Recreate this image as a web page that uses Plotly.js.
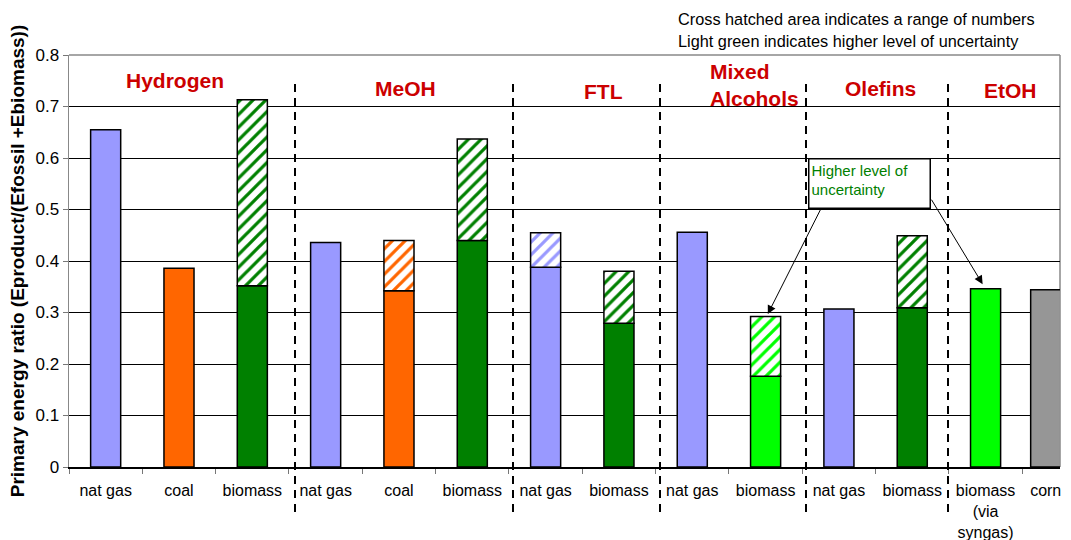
<!DOCTYPE html>
<html>
<head>
<meta charset="utf-8">
<script src="https://cdn.plot.ly/plotly-3.0.1.min.js"></script>
<style>html,body{margin:0;padding:0;background:#fff;}#chart{width:1071px;height:540px;}</style>
</head>
<body>
<div id="chart"></div>
<script>
// ---- data ----
const categories = ['nat gas','coal','biomass','nat gas','coal','biomass','nat gas','biomass','nat gas','biomass','nat gas','biomass','biomass<br>(via<br>syngas)','corn'];
const feedstock  = ['natgas','coal','biomass','natgas','coal','biomass','natgas','biomass','natgas','uncertain','natgas','biomass','uncertain','corn'];
const baseValues = [0.655,0.386,0.352,0.436,0.342,0.440,0.388,0.279,0.456,0.176,0.307,0.309,0.346,0.344];
const rangeTop   = [null,null,0.713,null,0.440,0.637,0.455,0.380,null,0.292,null,0.449,null,null];
const groupLabels = ['Hydrogen','MeOH','FTL','Mixed<br>Alcohols','Olefins','EtOH'];
const noteLines = ['Cross hatched area indicates a range of numbers','Light green indicates higher level of uncertainty'];
const calloutText = 'Higher level of<br>uncertainty';

// ---- styles ----
const colorMap = {natgas:'#9999FF', coal:'#FF6600', biomass:'#008000', uncertain:'#00FF00', corn:'#969696'};
const font = 'Liberation Sans, Arial, sans-serif';
const colors = feedstock.map(f => colorMap[f]);
const xPos = categories.map((c, i) => i < 13 ? i : 12.82);

const solid = {
  type:'bar', x:xPos, y:baseValues, width:0.41,
  marker:{color:colors, line:{color:'#000', width:1.5}},
  hoverinfo:'skip', showlegend:false
};
const hatchIdx = rangeTop.map((v,i)=>v===null?null:i).filter(v=>v!==null);
const hatched = {
  type:'bar',
  x:hatchIdx.map(i=>xPos[i]),
  base:hatchIdx.map(i=>baseValues[i]),
  y:hatchIdx.map(i=>rangeTop[i]-baseValues[i]),
  width:0.41,
  marker:{color:'#fff', line:{color:'#000', width:1.5},
    pattern:{shape:'/', fgcolor:hatchIdx.map(i=>colors[i]), bgcolor:'#fff', fgopacity:1, size:9, solidity:0.36, fillmode:'replace'}},
  hoverinfo:'skip', showlegend:false
};

// group label placement
const groupPos = [[0.94,0.750,'center'],[4.09,0.734,'center'],[6.79,0.730,'center'],[8.21,0.742,'left'],[10.57,0.734,'center'],[12.34,0.732,'center']];
const annotations = groupLabels.map((t,i)=>({
  xref:'x', yref:'y', x:groupPos[i][0], y:groupPos[i][1], xanchor:groupPos[i][2], yanchor:'middle',
  text:'<b>'+t+'</b>', showarrow:false, align:'left',
  font:{family:font, size:21, color:'#CC0000'}
}));
annotations.push({xref:'paper', yref:'paper', x:(676-69)/991, y:(467-19)/412, xanchor:'left', yanchor:'middle',
  text:noteLines[0], showarrow:false, font:{family:font, size:16.3, color:'#000'}});
annotations.push({xref:'paper', yref:'paper', x:(676-69)/991, y:(467-41)/412, xanchor:'left', yanchor:'middle',
  text:noteLines[1], showarrow:false, font:{family:font, size:16.3, color:'#000'}});
// callout box
annotations.push({xref:'x', yref:'y', x:10.42, y:0.551, xanchor:'center', yanchor:'middle',
  text:calloutText, showarrow:false, align:'left', valign:'top', width:116, height:44,
  bgcolor:'#fff', bordercolor:'#000', borderwidth:1.5, borderpad:2,
  font:{family:font, size:15, color:'#008000'}});
// arrows
annotations.push({xref:'x', yref:'y', x:9.03, y:0.297, axref:'x', ayref:'y', ax:9.76, ay:0.503,
  text:'', showarrow:true, arrowhead:2, arrowsize:1.7, arrowwidth:1, arrowcolor:'#000'});
annotations.push({xref:'x', yref:'y', x:11.96, y:0.355, axref:'x', ayref:'y', ax:11.25, ay:0.522,
  text:'', showarrow:true, arrowhead:2, arrowsize:1.7, arrowwidth:1, arrowcolor:'#000'});

const sepX = [295,513,660,806,948];
const shapes = sepX.map(px=>({type:'line', xref:'paper', yref:'paper',
  x0:(px-69)/991, x1:(px-69)/991, y0:(467-84)/412, y1:(467-518)/412,
  line:{color:'#000', width:2, dash:'8px,6px'}, layer:'above'}));
shapes.push({type:'line', xref:'paper', yref:'paper', x0:0, x1:1, y0:1, y1:1, line:{color:'#888', width:1.5}, layer:'below'});
shapes.push({type:'line', xref:'paper', yref:'paper', x0:1, x1:1, y0:0, y1:1, line:{color:'#888', width:1.5}, layer:'below'});

const layout = {
  width:1071, height:540,
  margin:{l:69, r:11, t:55, b:73, pad:0},
  paper_bgcolor:'#fff', plot_bgcolor:'#fff',
  barmode:'overlay', bargap:0,
  font:{family:font, color:'#000'},
  xaxis:{range:[-0.5,13.015], tickmode:'array', tickvals:xPos, ticktext:categories,
    ticks:'', showgrid:false, zeroline:false, showline:true, linecolor:'#000', linewidth:2,
    tickfont:{family:font, size:16, color:'#000'}, ticklabelstandoff:8,
    minor:{tick0:0.5, dtick:1, ticks:'outside', ticklen:5, tickcolor:'#777', tickwidth:1, showgrid:false},
    fixedrange:true},
  yaxis:{range:[0,0.8], dtick:0.1, tick0:0, showgrid:true, gridcolor:'#000', gridwidth:1,
    zeroline:false, showline:true, linecolor:'#888', linewidth:1.5,
    ticks:'outside', ticklen:5, tickcolor:'#777',
    tickfont:{family:font, size:17, color:'#000'},
    title:{text:'<b>Primary energy ratio (Eproduct/(Efossil +Ebiomass))</b>', font:{family:font, size:19, color:'#000'}, standoff:6},
    fixedrange:true},
  annotations:annotations,
  shapes:shapes
};

Plotly.newPlot('chart', [solid, hatched], layout, {displayModeBar:false, staticPlot:true});
</script>
</body>
</html>
